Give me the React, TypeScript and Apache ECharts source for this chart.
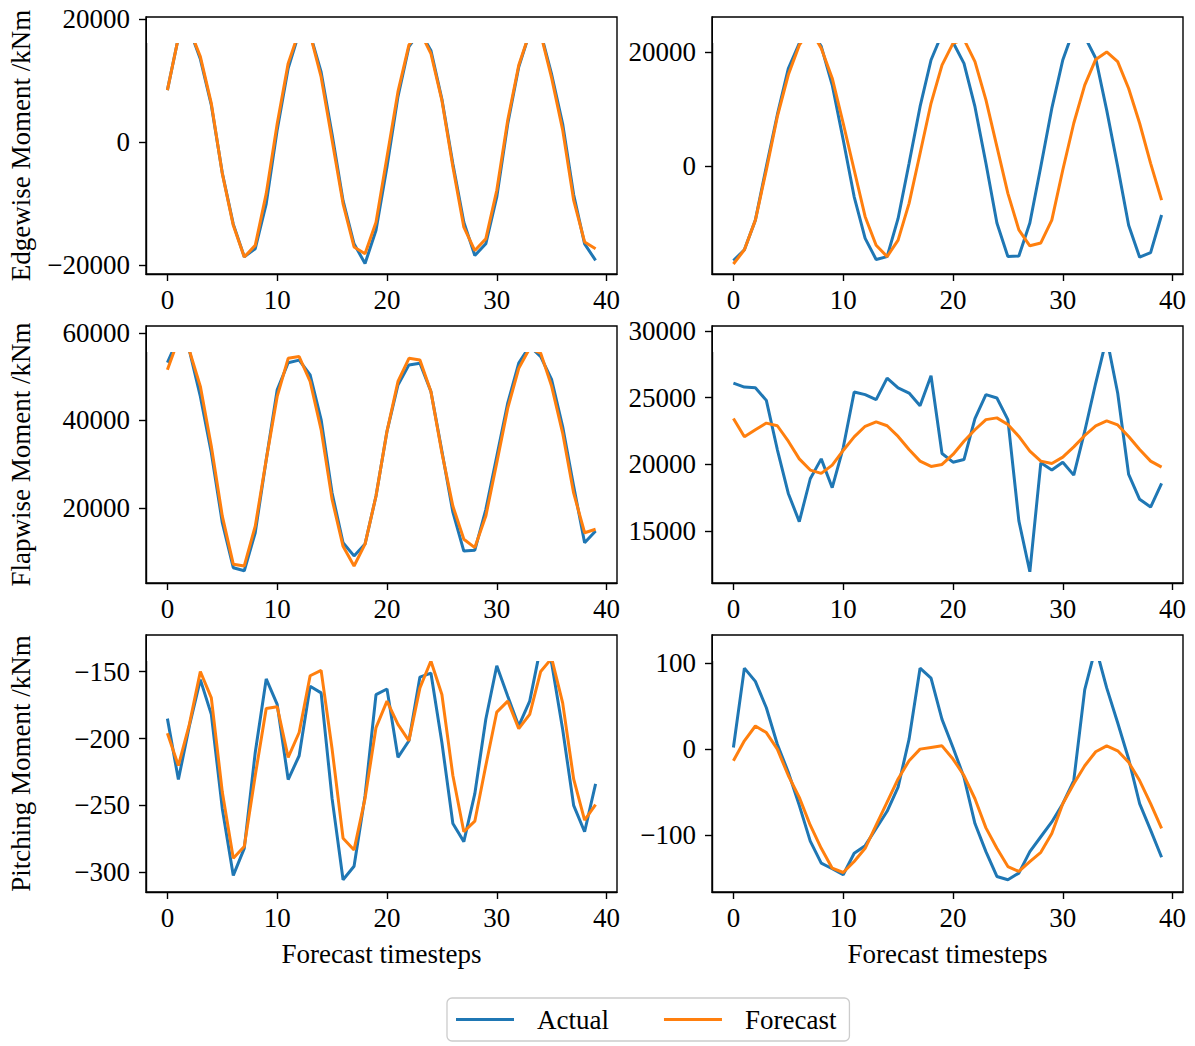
import React, { useEffect, useRef } from "react";
import * as echarts from "echarts";

const timesteps = Array.from({ length: 40 }, (_, i) => i);
const xTicks = [0, 10, 20, 30, 40];

const edgeActualA = [8450, 17000, 18400, 13500, 6000, -5000, -13300, -18600, -17300, -10000, 2000, 12000, 17800, 17600, 11400, 1300, -9500, -16500, -19700, -14300, -4000, 7400, 15500, 18000, 14900, 7000, -3500, -13000, -18400, -16500, -8900, 3000, 12200, 17800, 17800, 11000, 3000, -8500, -16500, -19200];
const edgeForecastA = [8450, 17000, 18400, 13900, 6300, -5100, -13500, -18650, -16750, -8350, 3000, 12800, 18000, 17500, 10600, 300, -10000, -17000, -18100, -13000, -2400, 8200, 15800, 18000, 14400, 6800, -4000, -13800, -17600, -15700, -7800, 3600, 12500, 17800, 17600, 10400, 2000, -9400, -16200, -17300];
const edgeActualB = [-16600, -14700, -9500, -100, 9000, 17100, 21500, 24000, 21000, 14200, 4600, -5400, -12700, -16400, -15900, -9200, 470, 10400, 18600, 23200, 21700, 18000, 10400, 470, -10000, -15900, -15800, -10000, -100, 10100, 18600, 24000, 22700, 18900, 9800, -100, -10400, -16000, -15200, -8600];
const edgeForecastB = [-17200, -14700, -9500, -700, 8650, 16000, 21200, 24000, 20650, 15400, 7500, -700, -8900, -13900, -15900, -13000, -6550, 2200, 11000, 17700, 21500, 22200, 18300, 11600, 3400, -4800, -11200, -14000, -13500, -9500, -700, 7500, 14200, 18700, 20000, 18300, 13600, 7500, 470, -6000];

const flapActualA = [53200, 58900, 56000, 45500, 32600, 16600, 6300, 5600, 14300, 31000, 47000, 53200, 53800, 50400, 40200, 23400, 12000, 9000, 11700, 22700, 37500, 48100, 52700, 53100, 46600, 33000, 19000, 10100, 10300, 19600, 31800, 44000, 53100, 57000, 54600, 49300, 38600, 25000, 12000, 14700];
const flapForecastA = [51600, 58500, 56000, 47800, 34100, 18100, 7100, 6700, 15800, 31000, 45500, 54200, 54600, 48900, 37900, 21900, 11200, 6700, 11700, 22700, 37500, 48900, 54200, 53800, 46600, 32600, 20400, 12800, 10900, 18100, 30300, 42800, 51900, 56500, 55400, 47800, 37100, 23400, 14300, 15100];
const flapActualB = [26100, 25800, 25750, 24800, 21120, 17830, 15720, 18930, 20420, 18260, 21250, 25430, 25230, 24860, 26470, 25730, 25350, 24400, 26650, 20820, 20170, 20370, 23440, 25230, 24980, 23360, 15770, 11960, 20120, 19580, 20170, 19200, 22490, 26100, 29490, 25350, 19250, 17390, 16810, 18580];
const flapForecastB = [23440, 22070, 22600, 23100, 22900, 21740, 20420, 19580, 19330, 19950, 21050, 22070, 22860, 23190, 22900, 22100, 21120, 20250, 19850, 20000, 20750, 21740, 22600, 23360, 23490, 22990, 22100, 21000, 20250, 20075, 20550, 21320, 22170, 22900, 23260, 22960, 22100, 21120, 20250, 19800];

const pitchActualA = [-185.1, -230.7, -190.6, -155.9, -181.9, -252.5, -302.5, -282.2, -210.4, -155.4, -174.5, -230.7, -212.9, -160.9, -165.8, -245.0, -305.7, -295.6, -243, -167.1, -162.9, -214.1, -201.7, -154.0, -151.0, -203.0, -263.6, -277.2, -241.3, -185.6, -145.5, -168.3, -190.6, -172.0, -131.2, -143.6, -193.1, -250.0, -269.8, -233.9];
const pitchForecastA = [-196.0, -220.3, -189.4, -149.8, -169.6, -240.1, -289.6, -280.9, -227.7, -177.5, -176.2, -214.1, -195.5, -153.0, -149.0, -207.9, -274.7, -283.4, -245, -191.8, -172.0, -189.4, -201.7, -162.1, -142, -167.1, -227.7, -269.8, -261.9, -220.3, -180.2, -172.0, -192.6, -181.9, -149.8, -140, -173.3, -230.2, -261.1, -249.5];
const pitchActualB = [1.9, 93.8, 78.5, 47.9, 5.7, -26.8, -65.1, -106.5, -132.1, -138.6, -145.5, -120.6, -111.8, -91.9, -72.0, -44.0, 11.5, 93.8, 82.3, 34.5, 1.9, -32.6, -86.2, -118.7, -147.5, -151.3, -143.6, -118.7, -101.5, -84.3, -63.2, -36.4, 68.9, 118, 70.9, 30.6, -11.5, -63.2, -93.8, -125.2];
const pitchForecastB = [-13.4, 9.6, 26.8, 19.2, 0, -30.6, -55.9, -88.1, -114.9, -137.9, -142.9, -130.2, -114.9, -88.1, -61.3, -34.5, -13.4, 0, 1.9, 3.8, -11.5, -30.6, -57.5, -91.2, -114.9, -136.0, -141.7, -130.2, -119.5, -97.7, -63.2, -40.2, -19.2, -3.1, 3.8, -1.9, -15.3, -36.4, -63.2, -91.9];

const edgeTicksA = [-20000, 0, 20000];
const edgeTicksB = [0, 20000];
const flapTicksA = [20000, 40000, 60000];
const flapTicksB = [15000, 20000, 25000, 30000];
const pitchTicksA = [-300, -250, -200, -150];
const pitchTicksB = [-100, 0, 100];

const yNames = ["Edgewise Moment /kNm", "Flapwise Moment /kNm", "Pitching Moment /kNm"];
const xName = "Forecast timesteps";
const seriesNames = ["Actual", "Forecast"];

const FONT = "'Liberation Serif', 'Times New Roman', 'DejaVu Serif', serif";
const BLUE = "#1f77b4";
const ORANGE = "#ff7f0e";

const panels = [
  { left: 146, top: 17, yMin: -21400, yMax: 20330, ticks: edgeTicksA, actual: edgeActualA, forecast: edgeForecastA, yName: yNames[0], xName: false },
  { left: 712, top: 17, yMin: -18950, yMax: 26140, ticks: edgeTicksB, actual: edgeActualB, forecast: edgeForecastB, yName: "", xName: false },
  { left: 146, top: 326, yMin: 2800, yMax: 61600, ticks: flapTicksA, actual: flapActualA, forecast: flapForecastA, yName: yNames[1], xName: false },
  { left: 712, top: 326, yMin: 11120, yMax: 30373, ticks: flapTicksB, actual: flapActualB, forecast: flapForecastB, yName: "", xName: false },
  { left: 146, top: 635, yMin: -314.9, yMax: -122.5, ticks: pitchTicksA, actual: pitchActualA, forecast: pitchForecastA, yName: yNames[2], xName: true },
  { left: 712, top: 635, yMin: -165.5, yMax: 132.2, ticks: pitchTicksB, actual: pitchActualB, forecast: pitchForecastB, yName: "", xName: true },
];
const W = 471;
const H = 257;
const CUT = 26;
const LW = 3;

const fmt = (v: number) => (v < 0 ? "\u2212" + Math.abs(v) : String(v));

export default function App() {
  const ref = useRef<HTMLDivElement>(null);
  useEffect(() => {
    if (!ref.current) return;
    const chart = echarts.init(ref.current, undefined, { renderer: "svg" });
    const axisCommon = {
      axisLine: { show: true, onZero: false, lineStyle: { color: "#000", width: 1.4 } },
      axisTick: { show: true, length: 7, lineStyle: { color: "#000", width: 1.4 } },
      splitLine: { show: false },
    };
    const option: any = {
      animation: false,
      backgroundColor: "#fff",
      grid: panels.map((p) => ({
        left: p.left,
        top: p.top,
        width: W,
        height: H,
        show: true,
        borderColor: "#000",
        borderWidth: 1.4,
        backgroundColor: "transparent",
      })),
      xAxis: panels.map((p, k) => ({
        type: "value",
        gridIndex: k,
        min: -1.95,
        max: 40.95,
        ...axisCommon,
        axisTick: { ...axisCommon.axisTick, customValues: xTicks },
        axisLabel: { customValues: xTicks, formatter: fmt, fontSize: 27, fontFamily: FONT, color: "#000", margin: 12 },
        name: p.xName ? xName : "",
        nameLocation: "middle",
        nameGap: 48,
        nameTextStyle: { fontSize: 27, fontFamily: FONT, color: "#000" },
      })),
      yAxis: panels.map((p, k) => ({
        type: "value",
        gridIndex: k,
        min: p.yMin,
        max: p.yMax,
        ...axisCommon,
        axisTick: { ...axisCommon.axisTick, customValues: p.ticks },
        axisLabel: { customValues: p.ticks, formatter: fmt, fontSize: 27, fontFamily: FONT, color: "#000", margin: 16 },
        name: p.yName,
        nameLocation: "middle",
        nameRotate: 90,
        nameGap: 112,
        nameTextStyle: { fontSize: 27, fontFamily: FONT, color: "#000" },
      })),
      legend: {
        data: seriesNames,
        left: 447,
        top: 998,
        icon: "rect",
        itemWidth: 58,
        itemHeight: 3,
        itemGap: 55,
        padding: [8, 13, 8, 9],
        borderColor: "#cccccc",
        borderWidth: 1.3,
        borderRadius: 5,
        backgroundColor: "#fff",
        textStyle: { fontSize: 27, fontFamily: FONT, color: "#000", padding: [0, 0, 0, 18] },
      },
      series: panels.flatMap((p, k) => [
        {
          name: seriesNames[0],
          type: "line",
          xAxisIndex: k,
          yAxisIndex: k,
          symbol: "none",
          data: timesteps.map((t) => [t, p.actual[t]]),
          lineStyle: { color: BLUE, width: LW },
          itemStyle: { color: BLUE },
          z: 2,
        },
        {
          name: seriesNames[1],
          type: "line",
          xAxisIndex: k,
          yAxisIndex: k,
          symbol: "none",
          data: timesteps.map((t) => [t, p.forecast[t]]),
          lineStyle: { color: ORANGE, width: LW },
          itemStyle: { color: ORANGE },
          z: 3,
        },
      ]),
      graphic: panels.map((p) => ({
        type: "rect",
        z: 100,
        silent: true,
        shape: { x: p.left + 1, y: p.top + 1, width: W - 2, height: CUT - 1 },
        style: { fill: "#fff" },
      })),
    };
    chart.setOption(option);
    return () => chart.dispose();
  }, []);
  return <div ref={ref} style={{ position: "fixed", left: 0, top: 0, width: 1195, height: 1046 }} />;
}
